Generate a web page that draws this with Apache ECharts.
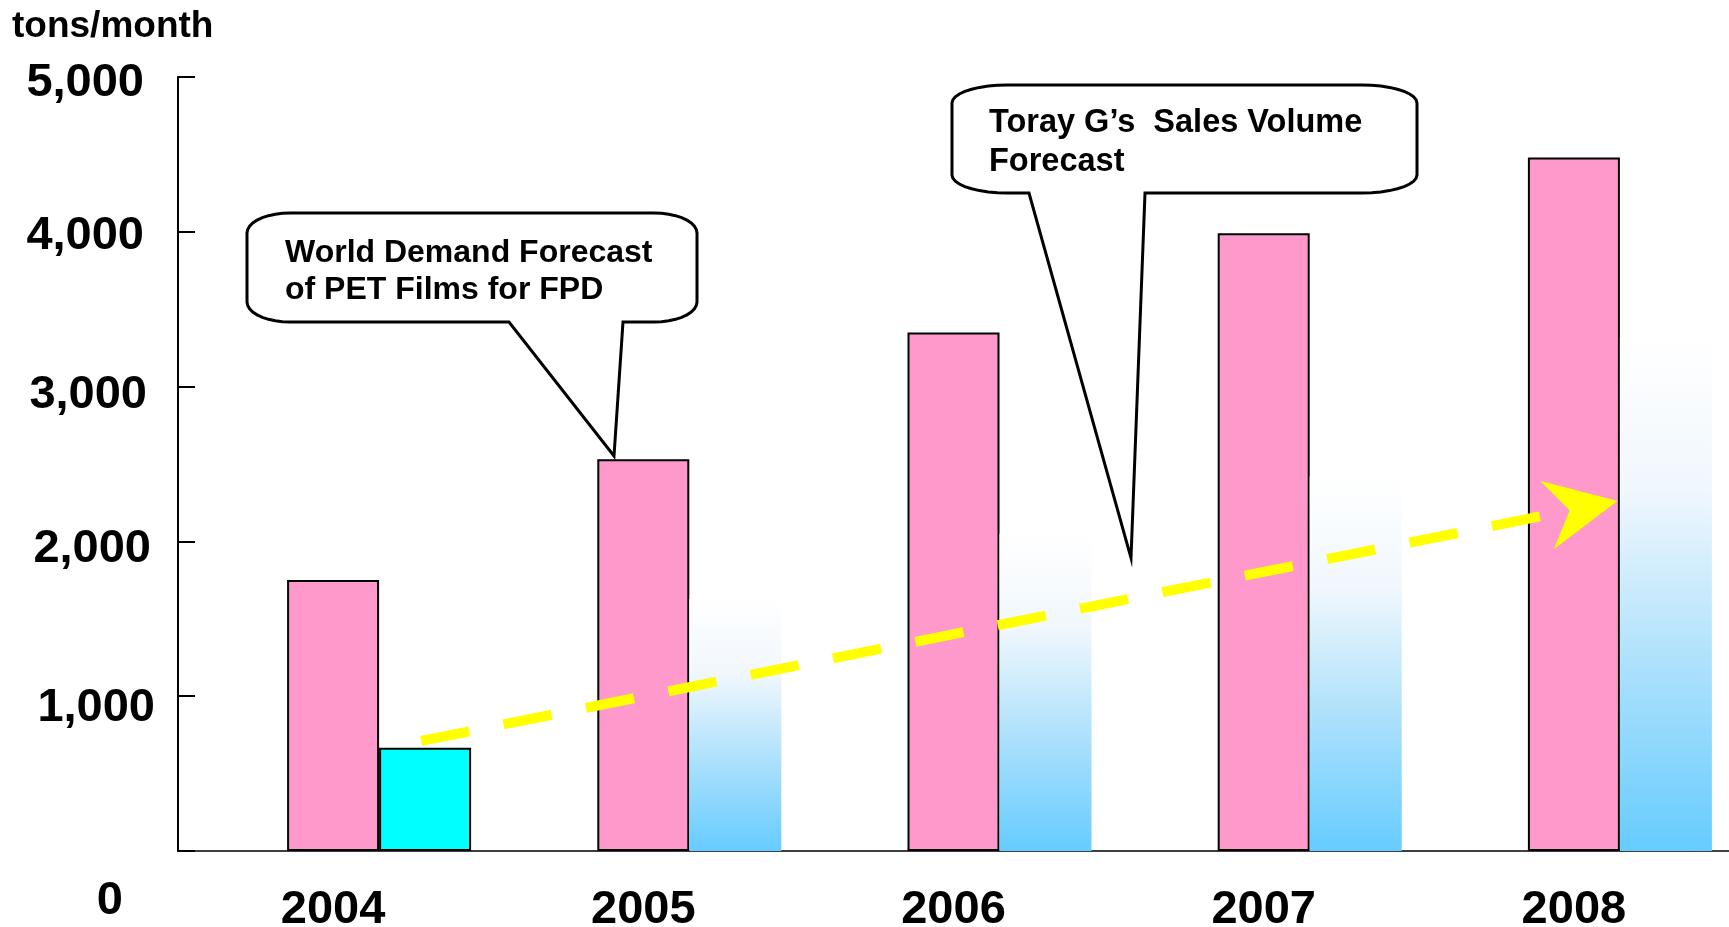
<!DOCTYPE html>
<html>
<head>
<meta charset="utf-8">
<script src="https://cdn.jsdelivr.net/npm/echarts@6/dist/echarts.min.js"></script>
<style>
html,body{margin:0;padding:0;background:#fff;overflow:hidden;}
#chart{width:1729px;height:927px;}
</style>
</head>
<body>
<div id="chart"></div>
<script>
// ---- data ----
const categories = ['2004', '2005', '2006', '2007', '2008'];
const worldDemand = [1750, 2530, 3350, 3990, 4480];      // pink bars
const torayVolume = [667, 1630, 2050, 2420, 3320];       // cyan / fading blue bars
const yTickValues = [0, 1000, 2000, 3000, 4000, 5000];
const yTickLabels = ['0', '1,000', '2,000', '3,000', '4,000', '5,000'];
const trendArrow = [[0.284, 711], [4.027, 2216]];        // yellow dashed growth arrow
const unitLabel = 'tons/month';
const calloutWorld = 'World Demand Forecast\nof PET Films for FPD';
const calloutToray = 'Toray G\u2019s  Sales Volume\nForecast';

// ---- styles ----
const FF = '"Liberation Sans", Arial, Helvetica, sans-serif';
const chart = echarts.init(document.getElementById('chart'), null, {renderer: 'canvas'});

const labelPad = {0: [100, 32, 0, 0], 1000: [23, 0, 0, 0], 2000: [15, 4, 0, 0],
                  3000: [16, 8, 0, 0], 4000: [8, 11, 0, 0], 5000: [12, 11, 0, 0]};
const rich = {};
yTickValues.forEach(v => {
  rich['t' + v] = {fontSize: 47, fontWeight: 'bold', fontFamily: FF, color: '#000', padding: labelPad[v]};
});

const blueGrad = new echarts.graphic.LinearGradient(0, 0, 0, 1, [
  {offset: 0, color: '#FFFFFF'},
  {offset: 0.3, color: '#F0F7FD'},
  {offset: 0.65, color: '#ABE0FC'},
  {offset: 1, color: '#66CCFF'}
]);

function bubblePoints(L, T, R, B, rx, ry, tail) {
  const pts = [];
  const arc = (cx, cy, a0, a1) => {
    for (let a = a0; a <= a1 + 0.001; a += 10) {
      const r = a * Math.PI / 180;
      pts.push([cx + rx * Math.cos(r), cy + ry * Math.sin(r)]);
    }
  };
  arc(R - rx, T + ry, -90, 0);
  arc(R - rx, B - ry, 0, 90);
  pts.push([tail[3], B], [tail[1], tail[2]], [tail[0], B]);
  arc(L + rx, B - ry, 90, 180);
  arc(L + rx, T + ry, 180, 270);
  return pts;
}

const option = {
  animation: false,
  backgroundColor: '#fff',
  title: {
    text: unitLabel, left: 12, top: 8, padding: 0,
    textStyle: {fontSize: 37, fontWeight: 'bold', fontFamily: FF, color: '#000'}
  },
  grid: {left: 178, top: 77, width: 1551, height: 774, outerBoundsMode: 'none', containLabel: false},
  xAxis: [{
    type: 'category',
    data: categories,
    axisLine: {onZero: false, lineStyle: {color: '#000', width: 1.5}},
    axisTick: {show: false},
    axisLabel: {fontSize: 47, fontWeight: 'bold', fontFamily: FF, color: '#000', margin: 36}
  }, {
    type: 'value', show: false, min: -0.5, max: 4.5
  }],
  yAxis: {
    type: 'value', min: 0, max: 5000, interval: 1000,
    splitLine: {show: false},
    axisLine: {show: true, onZero: false, lineStyle: {color: '#000', width: 2}},
    axisTick: {show: true, inside: true, length: 17, lineStyle: {color: '#000', width: 2}},
    axisLabel: {
      margin: 23, rich: rich,
      formatter: v => '{t' + v + '|' + yTickLabels[yTickValues.indexOf(v)] + '}'
    }
  },
  series: [{
    name: 'spacer', type: 'bar', barWidth: 92, barGap: 0, silent: true,
    data: categories.map(() => null), itemStyle: {color: 'transparent'}
  }, {
    name: 'World Demand', type: 'bar', barWidth: 92, barGap: 0,
    data: worldDemand,
    itemStyle: {color: '#FF99CC', borderColor: '#000', borderWidth: 2}
  }, {
    name: 'Toray', type: 'bar', barWidth: 92, barGap: 0,
    data: torayVolume.map((v, i) => i === 0
      ? {value: v, itemStyle: {color: '#00FFFF', borderColor: '#000', borderWidth: 2}}
      : {value: v, itemStyle: {color: blueGrad, borderWidth: 0}})
  }, {
    name: 'trend', type: 'line', xAxisIndex: 1, yAxisIndex: 0, z: 5, clip: false, silent: true,
    symbolSize: 0, showSymbol: true,
    lineStyle: {color: '#FFFF00', width: 10, type: [49, 35], cap: 'butt'},
    data: trendArrow.map((p, i) => i === 0
      ? {value: p, symbol: 'none'}
      : {value: p, symbol: 'path://M100,50 L0,0 L32,50 L0,100 Z', symbolSize: [72, 70],
         symbolRotate: 11.3, itemStyle: {color: '#FFFF00', opacity: 1}})
  }],
  graphic: [
    {type: 'line', z: 1, shape: {x1: 1690, y1: 851, x2: 1729, y2: 851},
     style: {stroke: '#444', lineWidth: 1.5}},
    {type: 'polygon', z: 10, shape: {points: bubblePoints(247, 213, 697, 322, 43, 20, [509, 614, 456, 623])},
     style: {fill: '#fff', stroke: '#000', lineWidth: 3}},
    {type: 'text', z: 11, x: 285, y: 235,
     style: {text: calloutWorld, font: 'bold 32px ' + FF, fill: '#000', lineHeight: 37, verticalAlign: 'top'}},
    {type: 'polygon', z: 10, shape: {points: bubblePoints(952, 85, 1417, 193, 55, 18, [1029, 1131, 558, 1145])},
     style: {fill: '#fff', stroke: '#000', lineWidth: 3}},
    {type: 'text', z: 11, x: 989, y: 104,
     style: {text: calloutToray, font: 'bold 32.5px ' + FF, fill: '#000', lineHeight: 39, verticalAlign: 'top'}}
  ]
};
chart.setOption(option);
</script>
</body>
</html>
